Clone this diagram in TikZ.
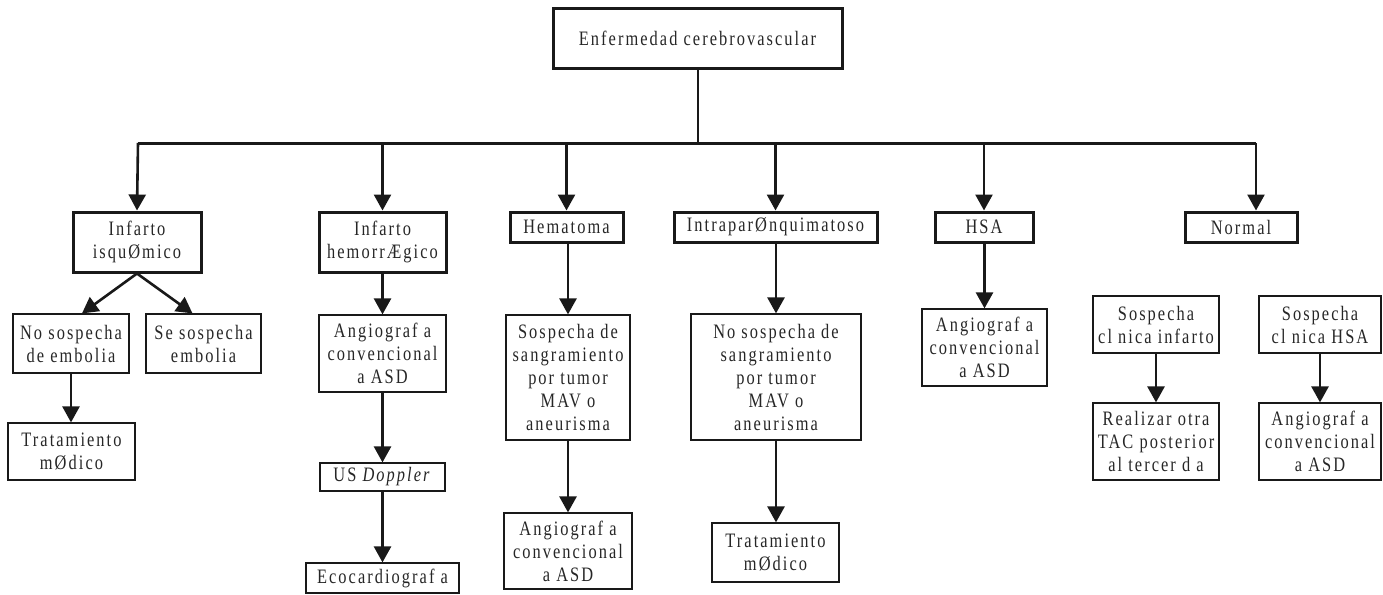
\documentclass[tikz,border=0pt]{standalone}
\usepackage{fontspec}
\setmainfont{Liberation Serif}[LetterSpace=10, FakeStretch=0.8]
\usetikzlibrary{arrows.meta}
\begin{document}
\begin{tikzpicture}[x=1pt, y=-1pt,
  box/.style={draw=black!90, line width=1.2pt, inner sep=0pt, align=center,
    text=black!85, font=\fontsize{20.5}{23}\selectfont},
  thickbox/.style={box, line width=3pt},
  sz/.style 2 args={minimum width=#1pt, minimum height=#2pt},
  arr/.style={draw=black!90, line width=2.6pt, -{Triangle[width=17pt,length=16pt]}},
  link/.style={draw=black!90, line width=2pt}]
\useasboundingbox (0,0) rectangle (1383,594);

% root
\node[thickbox, sz={289}{59}] (root) at (697.5,38.5) {Enfermedad cerebrovascular};

% first level
\node[thickbox, sz={128}{60}] (isq)    at (137,242)   {Infarto\\isquØmico};
\node[thickbox, sz={127}{60}] (hem)    at (382.5,242) {Infarto\\hemorrÆgico};
\node[thickbox, sz={113}{30}] (hemat)  at (566.5,227) {Hematoma};
\node[thickbox, sz={203}{30}] (intra)  at (775.5,227) {IntraparØnquimatoso};
\node[thickbox, sz={98}{30}]  (hsa)    at (984,227)   {HSA};
\node[thickbox, sz={112}{30}] (normal) at (1241,227)  {Normal};

% second level and below
\node[box, sz={116}{59}] (nosos)  at (71,343.5)    {No sospecha\\de embolia};
\node[box, sz={115}{59}] (sesos)  at (203.5,343.5) {Se sospecha\\embolia};
\node[box, sz={127}{57}] (trat1)  at (71.5,451.5)  {Tratamiento\\mØdico};

\node[box, sz={127}{77}] (ang1)   at (382.5,353.5) {Angiograf a\\convencional\\a ASD};
\node[box, sz={125}{28}] (usd)    at (382.5,477)   {US \textit{Doppler}};
\node[box, sz={153}{30}] (eco)    at (382.5,578)   {Ecocardiograf a};

\node[box, sz={124}{125}] (sosp1) at (568,377.5) {Sospecha de\\sangramiento\\por tumor\\MAV o\\aneurisma};
\node[box, sz={128}{76}]  (ang2)  at (568,551)   {Angiograf a\\convencional\\a ASD};

\node[box, sz={170}{126}] (nosos2) at (776,377)    {No sospecha de\\sangramiento\\por tumor\\MAV o\\aneurisma};
\node[box, sz={127}{59}]  (trat2)  at (775.5,552.5) {Tratamiento\\mØdico};

\node[box, sz={125}{77}] (ang3)   at (984.5,347.5) {Angiograf a\\convencional\\a ASD};

\node[box, sz={126}{57}] (scinf)  at (1156,324.5) {Sospecha\\cl nica infarto};
\node[box, sz={126}{77}] (realiz) at (1156,441.5) {Realizar otra\\TAC posterior\\al tercer d a};
\node[box, sz={122}{57}] (schsa)  at (1320,324.5) {Sospecha\\cl nica HSA};
\node[box, sz={122}{77}] (ang4)   at (1320,441.5) {Angiograf a\\convencional\\a ASD};

% distribution bar
\coordinate (barL) at (138,143);
\coordinate (barR) at (1256,143);
\draw[link] (root.south) -- (root.south |- barL);
\draw[link, line width=3pt] (barL) -- (barR);
\draw[arr] (barL) -- (isq.north);
\draw[arr] (hem.north |- barL) -- (hem.north);
\draw[arr] (hemat.north |- barL) -- (hemat.north);
\draw[arr] (intra.north |- barL) -- (intra.north);
\draw[arr] (hsa.north |- barL) -- (hsa.north);
\draw[arr] (barR) -- (barR |- normal.north);

% branches
\draw[arr] (isq.south) -- ([xshift=11pt]nosos.north);
\draw[arr] (isq.south) -- ([xshift=-11pt]sesos.north);
\draw[arr] (nosos.south) -- (nosos.south |- trat1.north);
\draw[arr] (hem.south) -- (ang1.north);
\draw[arr] (ang1.south) -- (usd.north);
\draw[arr] (usd.south) -- (eco.north);
\draw[arr] (hemat.south -| sosp1.north) -- (sosp1.north);
\draw[arr] (sosp1.south) -- (ang2.north);
\draw[arr] (intra.south -| nosos2.north) -- (nosos2.north);
\draw[arr] (nosos2.south) -- (nosos2.south |- trat2.north);
\draw[arr] (hsa.south -| ang3.north) -- (ang3.north);
\draw[arr] (scinf.south) -- (realiz.north);
\draw[arr] (schsa.south) -- (ang4.north);
\end{tikzpicture}
\end{document}
